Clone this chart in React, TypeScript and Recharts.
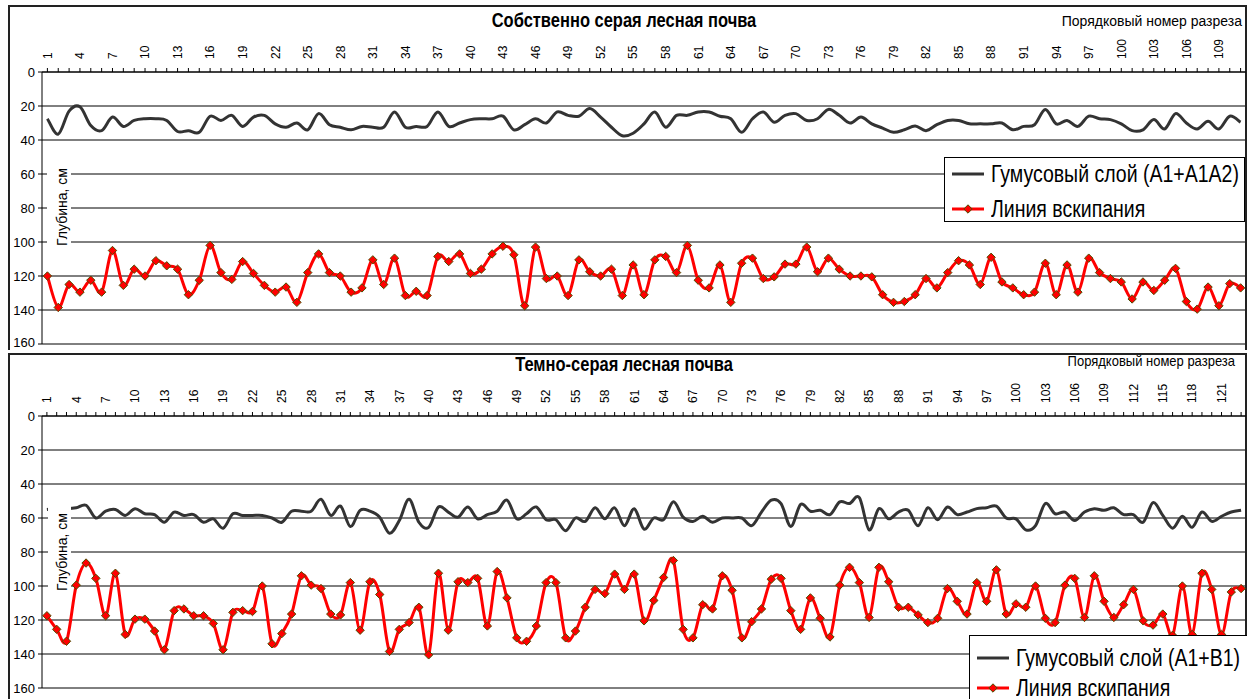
import React from 'react';
import { LineChart, Line, XAxis, YAxis, CartesianGrid, Legend, Customized } from 'recharts';

const FONT = '"Liberation Sans", Arial, sans-serif';

// Собственно серая лесная почва
const topHumus = [
  27.5, 36.5, 23, 20.5, 31.5, 34.5, 26.5, 32, 28.5, 27.5,
  27.5, 28.5, 35, 34.5, 35.5, 26, 28.5, 25.5, 32, 26.5,
  25.5, 30.5, 32.5, 30, 34, 24.5, 31, 32.5, 34, 32,
  32.5, 32.5, 23.5, 32.5, 32, 32, 23.5, 32, 30, 28,
  27.5, 27.5, 26, 34, 31, 27.5, 30, 23.5, 25.5, 26,
  21.5, 26.5, 32.5, 37.5, 36, 30.5, 23.5, 32.5, 25.5, 25.5,
  23.5, 23.5, 26, 27.5, 35.5, 27.5, 23.5, 29.5, 25.5, 24.5,
  28.5, 27.5, 22, 25.5, 30, 26.5, 30.5, 33, 35.5, 34,
  31.8, 34.5, 31, 28.5, 28.5, 30.5, 30.5, 30.5, 30, 34,
  32, 31, 22, 30.5, 28.5, 32, 26, 27.5, 28, 30.5,
  34.5, 34, 28, 33.5, 24.5, 30, 33.5, 29, 33.5, 26,
  29.5,
];
const topEfferv = [
  120, 138.5, 125, 129.5, 122.5, 129.5, 105, 125.5, 116, 120,
  111, 114, 116, 131, 122.5, 102, 118, 122, 111.5, 118.5,
  125.5, 129.5, 126.5, 135.5, 118, 107, 118, 120, 129.5, 127,
  110.5, 125, 109.5, 131.5, 129, 131.5, 108.5, 111.5, 107, 118.5,
  116, 107, 102.5, 107.5, 137.5, 103, 121.5, 120, 131.5, 110.5,
  117.5, 120, 116, 131.5, 113.5, 131, 110.5, 108.5, 118, 102,
  122.5, 127, 113.5, 135.5, 112.5, 109.5, 121.5, 120.5, 113, 113,
  103, 117.5, 109.5, 116, 120, 120, 120.5, 131, 135.5, 135,
  131, 121.5, 127, 118, 111, 113.5, 125, 109, 123.5, 127,
  131, 129.5, 112.5, 131, 113.5, 129.5, 109.5, 118, 121.5, 123.5,
  133.5, 123.5, 128.5, 122.5, 115.5, 135, 139.5, 126.5, 137.5, 124.5,
  127,
];

// Темно-серая лесная почва
const bottomHumus = [
  55, 54.5, 54.5, 54, 52.5, 60, 56, 55, 58.5, 54.5,
  57.5, 58, 62.5, 56.5, 58.5, 58, 62.5, 60.5, 66, 57.5,
  58.5, 58.5, 58.5, 60, 62.5, 56, 56, 56, 49, 58.5,
  53, 65, 55.5, 56, 59.5, 69, 61.5, 49, 62.5, 65.5,
  53.5, 56.5, 59.5, 53.5, 60.5, 58, 56, 49.5, 60.5, 57.5,
  53.5, 61, 61, 67.5, 60, 62, 54, 60.5, 54, 64.5,
  54.5, 66.5, 60, 61, 50.5, 59.5, 62, 59, 62.5, 60,
  60, 60, 64.5, 56.5, 49.5, 51.5, 65, 52, 56, 55.5,
  58, 50.5, 51.5, 48, 67, 54.5, 60.5, 56.5, 55.5, 64.5,
  54, 61, 53.5, 58, 56.5, 54.5, 54, 53, 60, 60.5,
  67, 64.5, 51.5, 57.5, 56.5, 61.5, 56.5, 54.5, 55.5, 54,
  58, 58, 62.5, 51, 58.5, 66, 59, 65.5, 56.5, 62,
  59, 56.5, 55.5,
];
const bottomEfferv = [
  117.5, 125.5, 132.5, 99.5, 86.5, 95.5, 117.5, 92.5, 128.5, 119.5,
  119.5, 126.5, 137.5, 114.5, 113.5, 117.5, 117.5, 122, 137.5, 115.5,
  114.5, 115, 100, 134, 128, 116.5, 94, 99.5, 101.5, 116.5,
  117, 98, 126, 97.5, 105, 138.5, 125.5, 121.5, 112.5, 140.5,
  92.5, 126, 97.5, 98, 95.5, 123.5, 91.5, 107, 130.5, 132.5,
  123.5, 98, 98, 130.5, 126.5, 112.5, 102, 104.5, 93, 102,
  93, 120.5, 108.5, 95, 85, 125.5, 130.5, 111, 113.5, 94,
  102.5, 130.5, 121, 113.5, 96, 95.5, 114.5, 125.5, 107, 119,
  130, 99.5, 89, 98, 118.5, 89, 97.5, 112.5, 112.5, 117,
  121.5, 119, 101.5, 109, 116.5, 98, 109, 90.5, 116.5, 110.5,
  112.5, 100, 119, 121.5, 99.5, 95.5, 118.5, 94, 109, 118.5,
  111, 102, 120.5, 123, 116.5, 129, 100, 128.5, 92.5, 102,
  128.5, 103.5, 101.5,
];

const topSections = topHumus.map((_, i) => i + 1);
const bottomSections = bottomHumus.map((_, i) => i + 1);
const depthTicks = [0, 20, 40, 60, 80, 100, 120, 140, 160];

const topRows = topSections.map((n, i) => ({ n, humus: topHumus[i], eff: topEfferv[i] }));
const bottomRows = bottomSections.map((n, i) => ({ n, humus: bottomHumus[i], eff: bottomEfferv[i] }));

// Excel-like smoothed line (Catmull-Rom through the points)
const excelSmooth: any = (context: any) => {
  let pts: number[][] = [];
  return {
    areaStart() {},
    areaEnd() {},
    lineStart() { pts = []; },
    point(x: number, y: number) { pts.push([+x, +y]); },
    lineEnd() {
      if (!pts.length) return;
      context.moveTo(pts[0][0], pts[0][1]);
      for (let i = 0; i < pts.length - 1; i++) {
        const p0 = pts[i - 1] || pts[i];
        const p1 = pts[i];
        const p2 = pts[i + 1];
        const p3 = pts[i + 2] || p2;
        context.bezierCurveTo(
          p1[0] + (p2[0] - p0[0]) / 6, p1[1] + (p2[1] - p0[1]) / 6,
          p2[0] - (p3[0] - p1[0]) / 6, p2[1] - (p3[1] - p1[1]) / 6,
          p2[0], p2[1],
        );
      }
    },
  };
};

const Diamond = (props: any) => {
  const { cx, cy } = props;
  if (cx == null || cy == null) return null;
  const r = 4.2;
  return (
    <polygon
      points={`${cx},${cy - r} ${cx + r},${cy} ${cx},${cy + r} ${cx - r},${cy}`}
      fill="#ff0000"
      stroke="#4d4d00"
      strokeWidth={1}
    />
  );
};

const SectionTick = (props: any) => {
  const { x, y, payload } = props;
  if ((payload.value - 1) % 3 !== 0) return null;
  return (
    <text x={x} y={y} transform={`rotate(-90, ${x}, ${y})`} textAnchor="start" dy="0.36em"
      fontSize={12} fill="#000" fontFamily={FONT}>
      {payload.value}
    </text>
  );
};

const stretch = (x: number, y: number, k: number) => `translate(${x} ${y}) scale(1 ${k}) translate(${-x} ${-y})`;

const Overlay = (p: any) => (
  <g fontFamily={FONT}>
    <rect x={9} y={p.frameY} width={1237} height={p.frameH} fill="none" stroke="#222" strokeWidth={2} />
    <text x={624} y={p.titleY} transform={stretch(624, p.titleY, 1.18)} textAnchor="middle" fontSize={16.5}
      fontWeight="bold" fill="#000">{p.title}</text>
    <text x={p.capX} y={p.capY} transform={stretch(p.capX, p.capY, 1.1)} textAnchor="end" fontSize={p.capSize}
      fill="#000">Порядковый номер разреза</text>
  </g>
);

// "Глубина, см" sits over the plot on a white patch, as in the source chart
const DepthLabel = (p: any) => (
  <svg width={100} height={350} style={{ position: 'absolute', left: 0, top: 0, pointerEvents: 'none' }}>
    <rect x={p.boxX} y={p.boxY} width={71 - p.boxX} height={p.boxH} fill="#fff" />
    <text x={62} y={p.labelY} transform={`rotate(-90, 62, ${p.labelY})`} textAnchor="middle" dy="0.35em"
      fontSize={14} fill="#000" fontFamily={FONT}>Глубина, см</text>
  </svg>
);

const textStretch: React.CSSProperties = { display: 'inline-block', transform: 'scaleY(1.18)' };

const legendContent = (humusName: string, row1: number, row2: number) => () => (
  <div style={{ position: 'relative', width: '100%', height: '100%', boxSizing: 'border-box',
    border: '1px solid #000', background: '#fff', fontFamily: FONT, fontSize: 19.5, color: '#000' }}>
    <div style={{ position: 'absolute', left: 7, top: row1, height: 32, display: 'flex', alignItems: 'center', whiteSpace: 'nowrap' }}>
      <svg width={39} height={12}><line x1={0} y1={6} x2={32} y2={6} stroke="#333" strokeWidth={3} /></svg>
      <span style={textStretch}>{humusName}</span>
    </div>
    <div style={{ position: 'absolute', left: 7, top: row2, height: 32, display: 'flex', alignItems: 'center', whiteSpace: 'nowrap' }}>
      <svg width={39} height={12}>
        <line x1={0} y1={6} x2={32} y2={6} stroke="#ff0000" strokeWidth={3} />
        <polygon points="16,1.8 20.2,6 16,10.2 11.8,6" fill="#ff0000" stroke="#4d4d00" strokeWidth={1} />
      </svg>
      <span style={textStretch}>Линия вскипания</span>
    </div>
  </div>
);

function Panel(props: any) {
  const { rows, height, marginTop, marginBottom, pad, humusName, legendBox, legendRows, overlay, label } = props;
  return (
    <div style={{ position: 'relative', width: 1247, height }}>
      <LineChart width={1247} height={height} data={rows}
        margin={{ top: marginTop, right: 1, left: 0, bottom: marginBottom }}>
        <CartesianGrid horizontal vertical={false} stroke="#000" />
        <XAxis dataKey="n" orientation="top" interval={0} tick={<SectionTick />} tickSize={4} tickMargin={9}
          height={32} padding={{ left: pad, right: pad }} axisLine={{ stroke: '#000' }} tickLine={{ stroke: '#000' }} />
        <YAxis reversed type="number" domain={[0, 160]} ticks={depthTicks} width={42} tickSize={4} tickMargin={3}
          axisLine={{ stroke: '#000' }} tickLine={{ stroke: '#000' }}
          tick={{ fontSize: 13, fill: '#000', fontFamily: FONT }} />
        <Line dataKey="humus" name={humusName} type={excelSmooth} stroke="#333" strokeWidth={3} dot={false}
          activeDot={false} isAnimationActive={false} />
        <Line dataKey="eff" name="Линия вскипания" type={excelSmooth} stroke="#ff0000" strokeWidth={3}
          dot={<Diamond />} activeDot={false} isAnimationActive={false} />
        <Legend layout="vertical" align="center" verticalAlign="middle"
          wrapperStyle={{ ...legendBox, position: 'absolute' }}
          content={legendContent(humusName, legendRows[0], legendRows[1])} />
        <Customized component={<Overlay {...overlay} />} />
      </LineChart>
      <DepthLabel {...label} />
    </div>
  );
}

export default function App() {
  return (
    <div style={{ position: 'relative', width: 1247, height: 699, overflow: 'hidden', background: '#fff' }}>
      <style>{'body{margin:0}'}</style>
      <div style={{ position: 'absolute', left: 0, top: 0 }}>
        <Panel rows={topRows} height={350} marginTop={40} marginBottom={6} pad={5.4}
          humusName="Гумусовый слой (A1+A1A2)"
          legendBox={{ left: 944, top: 157, width: 301, height: 65 }} legendRows={[0, 35]}
          overlay={{ frameY: 6, frameH: 400, title: 'Собственно серая лесная почва', titleY: 27,
            capX: 1242, capY: 26, capSize: 14 }}
          label={{ boxX: 47, boxY: 150, boxH: 104, labelY: 207 }} />
      </div>
      <div style={{ position: 'absolute', left: 0, top: 350 }}>
        <Panel rows={bottomRows} height={349} marginTop={34} marginBottom={11} pad={4.9}
          humusName="Гумусовый слой (A1+B1)"
          legendBox={{ left: 969, top: 285, width: 290, height: 80 }} legendRows={[6, 36]}
          overlay={{ frameY: 4, frameH: 400, title: 'Темно-серая лесная почва', titleY: 21,
            capX: 1235, capY: 16.5, capSize: 13 }}
          label={{ boxX: 48, boxY: 145, boxH: 103, labelY: 202 }} />
      </div>
    </div>
  );
}
